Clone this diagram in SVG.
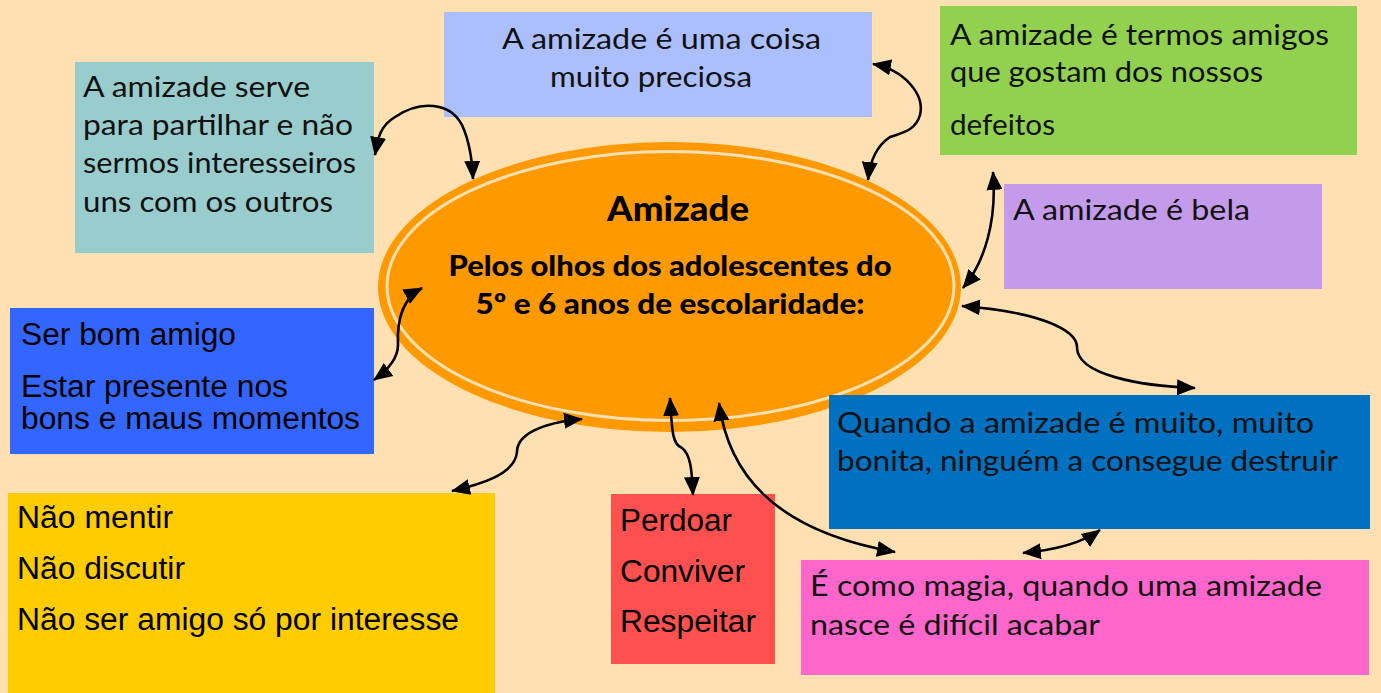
<svg xmlns="http://www.w3.org/2000/svg" width="1381" height="693" viewBox="0 0 1381 693">
<style>
.h{font-family:Lato,"Open Sans","DejaVu Sans",sans-serif;font-size:29px;fill:#111}
.a{font-family:"Liberation Sans",Arial,sans-serif;font-size:31px;fill:#000}
.c{font-family:Lato,"Liberation Sans",sans-serif;font-weight:900;fill:#000;text-anchor:middle}
.con{fill:none;stroke:#000;stroke-width:2.6;marker-start:url(#ah);marker-end:url(#ah)}
</style>
<defs>
<marker id="ah" markerUnits="userSpaceOnUse" markerWidth="20" markerHeight="18" refX="18" refY="8" orient="auto-start-reverse" viewBox="0 0 20 16">
<path d="M0,0 L19,8 L0,16 z" fill="#000"/>
</marker>
</defs>
<rect width="1381" height="693" fill="#FFE0B2"/>

<g id="center">
<ellipse cx="669.5" cy="287" rx="291.5" ry="145" fill="#FF9900"/>
<ellipse cx="670.5" cy="286" rx="283.5" ry="134.5" fill="none" stroke="#FFE0B2" stroke-width="3"/>
<text class="c" x="678" y="221" font-size="35" textLength="142" lengthAdjust="spacingAndGlyphs">Amizade</text>
<text class="c" x="670" y="276" font-size="29" textLength="443" lengthAdjust="spacingAndGlyphs">Pelos olhos dos adolescentes do</text>
<text class="c" x="670" y="314" font-size="29" textLength="389" lengthAdjust="spacingAndGlyphs">5º e 6 anos de escolaridade:</text>
</g>

<g id="preciosa">
<rect x="444" y="12" width="428" height="105" fill="#ABBFFF"/>
<text class="h" x="502" y="49" textLength="319" lengthAdjust="spacingAndGlyphs">A amizade é uma coisa</text>
<text class="h" x="550" y="87" textLength="202" lengthAdjust="spacingAndGlyphs">muito preciosa</text>
</g>

<g id="partilhar">
<rect x="75" y="62" width="299" height="191" fill="#99CCCC"/>
<text class="h" x="83" y="97" textLength="227" lengthAdjust="spacingAndGlyphs">A amizade serve</text>
<text class="h" x="83" y="135" textLength="270" lengthAdjust="spacingAndGlyphs">para partilhar e não</text>
<text class="h" x="83" y="173" textLength="273" lengthAdjust="spacingAndGlyphs">sermos interesseiros</text>
<text class="h" x="83" y="212" textLength="250" lengthAdjust="spacingAndGlyphs">uns com os outros</text>
</g>

<g id="defeitos">
<rect x="940" y="6" width="417" height="149" fill="#92D050"/>
<text class="h" x="950" y="45" textLength="379" lengthAdjust="spacingAndGlyphs">A amizade é termos amigos</text>
<text class="h" x="950" y="82" textLength="313" lengthAdjust="spacingAndGlyphs">que gostam dos nossos</text>
<text class="h" x="950" y="135" textLength="105" lengthAdjust="spacingAndGlyphs">defeitos</text>
</g>

<g id="bela">
<rect x="1004" y="184" width="318" height="105" fill="#C49BEA"/>
<text class="h" x="1013" y="220" textLength="237" lengthAdjust="spacingAndGlyphs">A amizade é bela</text>
</g>

<g id="bomamigo">
<rect x="10" y="308" width="364" height="146" fill="#3366FF"/>
<text class="a" x="21" y="345" textLength="215" lengthAdjust="spacingAndGlyphs">Ser bom amigo</text>
<text class="a" x="21" y="397" textLength="267" lengthAdjust="spacingAndGlyphs">Estar presente nos</text>
<text class="a" x="21" y="429" textLength="339" lengthAdjust="spacingAndGlyphs">bons e maus momentos</text>
</g>

<g id="naomentir">
<rect x="8" y="493" width="487" height="200" fill="#FFCC00"/>
<text class="a" x="17" y="528" textLength="156" lengthAdjust="spacingAndGlyphs">Não mentir</text>
<text class="a" x="17" y="579" textLength="168" lengthAdjust="spacingAndGlyphs">Não discutir</text>
<text class="a" x="17" y="630" textLength="442" lengthAdjust="spacingAndGlyphs">Não ser amigo só por interesse</text>
</g>

<g id="perdoar">
<rect x="611" y="494" width="164" height="170" fill="#FF5050"/>
<text class="a" x="620" y="531" textLength="112" lengthAdjust="spacingAndGlyphs">Perdoar</text>
<text class="a" x="620" y="582" textLength="125" lengthAdjust="spacingAndGlyphs">Conviver</text>
<text class="a" x="620" y="632" textLength="136" lengthAdjust="spacingAndGlyphs">Respeitar</text>
</g>

<g id="destruir">
<rect x="829" y="395" width="541" height="134" fill="#0070C0"/>
<text class="h" x="837" y="433" textLength="477" lengthAdjust="spacingAndGlyphs">Quando a amizade é muito, muito</text>
<text class="h" x="837" y="471" textLength="501" lengthAdjust="spacingAndGlyphs">bonita, ninguém a consegue destruir</text>
</g>

<g id="magia">
<rect x="801" y="560" width="568" height="115" fill="#FF66CC"/>
<text class="h" x="810" y="596" textLength="512" lengthAdjust="spacingAndGlyphs">É como magia, quando uma amizade</text>
<text class="h" x="810" y="635" textLength="290" lengthAdjust="spacingAndGlyphs">nasce é difícil acabar</text>
</g>

<g id="connectors">
<path class="con" d="M375,155 C378,138 380,126 395,117 C420,100 450,102 462,125 C468,138 472,155 473,179"/>
<path class="con" d="M873,64 C905,70 925,95 920,115 C915,132 900,133 890,137 C878,145 870,160 868,180"/>
<path class="con" d="M993,172 C997,220 985,262 963,288"/>
<path class="con" d="M962,306 C1040,312 1078,330 1077,348 C1078,375 1140,386 1195,388"/>
<path class="con" d="M422,288 C400,300 397,325 398,345 C398,360 385,372 374,380"/>
<path class="con" d="M582,419 C540,423 517,435 517,452 C515,475 478,485 452,491"/>
<path class="con" d="M670,398 C672,430 672,444 682,448 C692,455 692,478 693,495"/>
<path class="con" d="M719,403 C728,470 770,530 895,552"/>
<path class="con" d="M1023,553 C1055,550 1082,543 1100,530"/>
</g>
</svg>
